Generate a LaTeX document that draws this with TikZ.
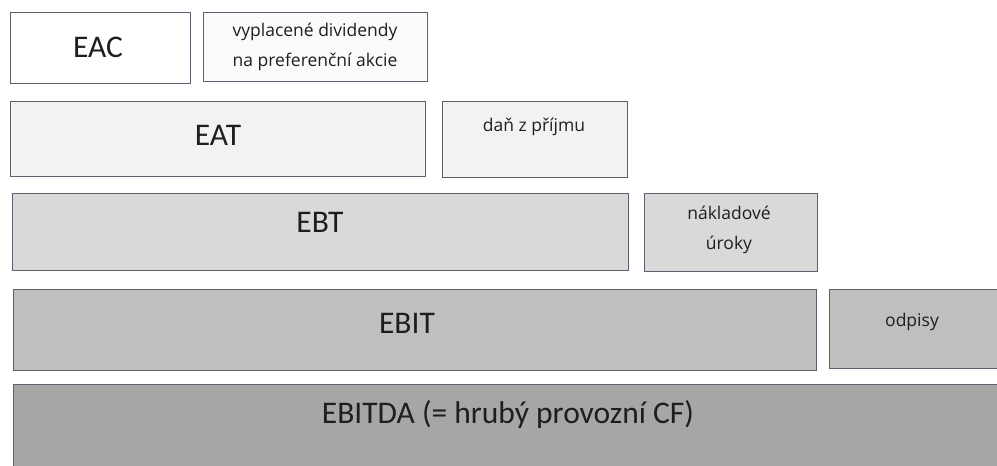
\documentclass[tikz,border=0pt]{standalone}
\usepackage{fontspec}
\setmainfont{Carlito}
\newfontfamily\smallfont{Open Sans}
\usetikzlibrary{calc}
\definecolor{edge}{HTML}{59616E}
\definecolor{tone0}{HTML}{FFFFFF}
\definecolor{tone1}{HTML}{FAFBFD}
\definecolor{tone2}{HTML}{F2F2F2}
\definecolor{tone3}{HTML}{D9D9D9}
\definecolor{tone4}{HTML}{BFBFBF}
\definecolor{tone5}{HTML}{A6A6A6}
\definecolor{ink}{HTML}{1E1E1E}
\tikzset{
  layer/.style={draw=edge, line width=1.4pt, inner sep=0pt, anchor=north west},
  bigtext/.style={font=\fontsize{31.5}{36}\selectfont, text=ink, inner sep=0pt},
  smalltext/.style={font=\smallfont\fontsize{17.5}{30}\selectfont, text=ink, inner sep=0pt, align=center},
}
\newcommand{\layerbox}[6]{%
  \node[layer, fill=#6, minimum width={#4-#2}, minimum height={#5-#3}] (#1) at (#2,#3) {};}
\begin{document}
\begin{tikzpicture}[x=1pt, y=-1pt]
  \useasboundingbox (0,0) rectangle (997,466);
  \clip (0,0) rectangle (997,466);
  \fill[white] (0,0) rectangle (997,466);
  % row 1
  \layerbox{eac}{10}{12}{190}{83}{tone0}
  \layerbox{div}{203}{12}{427}{81}{tone1}
  % row 2
  \layerbox{eat}{10}{101}{425}{176}{tone2}
  \layerbox{dan}{442}{101}{627}{177}{tone2}
  % row 3
  \layerbox{ebt}{12}{193}{628}{270}{tone3}
  \layerbox{nak}{644}{193}{817}{271}{tone3}
  % row 4
  \layerbox{ebit}{13}{289}{816}{370}{tone4}
  \layerbox{odp}{829}{289}{1003}{368}{tone4}
  % row 5
  \layerbox{ebitda}{13}{384}{1003}{475}{tone5}
  % labels
  \node[bigtext] (eacT) at (98,47) {EAC};
  \node[smalltext] (divT) at (315,47) {vyplacené dividendy\\na preferenční akcie};
  \node[bigtext] (eatT) at (218,135) {EAT};
  \node[smalltext] (danT) at (534,127) {daň z příjmu};
  \node[bigtext] (ebtT) at (320,222) {EBT};
  \node[smalltext] (nakT) at (729,230) {nákladové\\úroky};
  \node[bigtext] (ebitT) at (407,323) {EBIT};
  \node[smalltext] (odpT) at (912,322) {odpisy};
  \node[bigtext] (ebitdaT) at (508,415) {EBITDA (= hrubý provozní CF)};
\end{tikzpicture}
\end{document}
